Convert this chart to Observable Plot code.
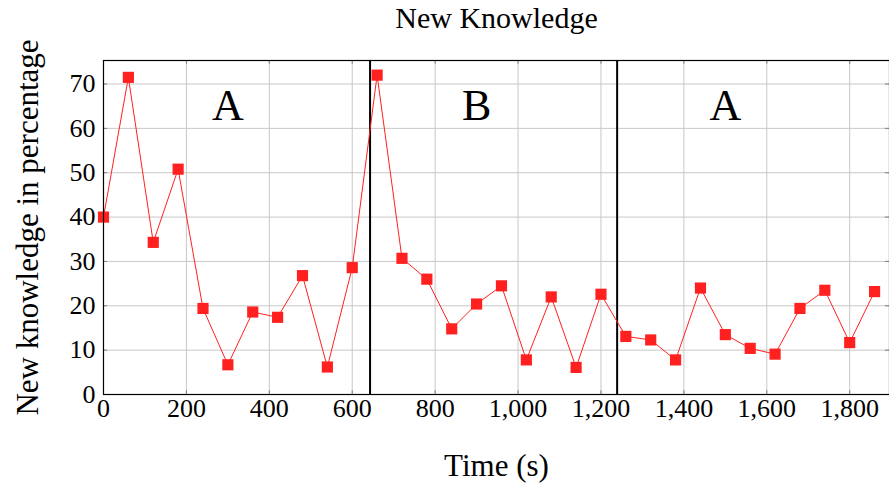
<!DOCTYPE html>
<html>
<head>
<meta charset="utf-8">
<script src="https://cdn.jsdelivr.net/npm/d3@7"></script>
<script src="https://cdn.jsdelivr.net/npm/@observablehq/plot@0.6"></script>
<style>
  html, body { margin: 0; padding: 0; background: #fff; }
  svg { display: block; }
</style>
</head>
<body>
<div id="chart"></div>
<script>
const times = [0,60,120,180,240,300,360,420,480,540,600,660,720,780,840,900,960,1020,1080,1140,1200,1260,1320,1380,1440,1500,1560,1620,1680,1740,1800,1860];
const knowledge = [40.0,71.5,34.3,50.8,19.4,6.7,18.6,17.4,26.8,6.2,28.6,72.0,30.7,26.0,14.8,20.4,24.5,7.8,22.0,6.1,22.6,13.1,12.3,7.8,24.0,13.5,10.4,9.1,19.4,23.5,11.7,23.2];
const phaseBoundaries = [643, 1239];
const phaseLabels = ["A", "B", "A"];
const phaseLabelX = [300, 900, 1500];
const phaseLabelY = [65, 65, 65];
const xTicks = [0,200,400,600,800,1000,1200,1400,1600,1800];
const yTicks = [0,10,20,30,40,50,60,70];
const title = "New Knowledge";
const xLabel = "Time (s)";
const yLabel = "New knowledge in percentage";

const data = times.map((t, i) => ({t, v: knowledge[i]}));
const labels = phaseLabels.map((s, i) => ({s, x: phaseLabelX[i], y: phaseLabelY[i]}));
const xMax = 1896, yMax = 75.3;

const font = "Liberation Serif, DejaVu Serif, serif";
const chart = Plot.plot({
  width: 889,
  height: 486,
  marginLeft: 103,
  marginRight: 0,
  marginTop: 60,
  marginBottom: 92,
  style: {fontFamily: font, fontSize: "26px", color: "black", background: "white"},
  x: {domain: [0, xMax]},
  y: {domain: [0, yMax]},
  marks: [
    Plot.gridX(xTicks, {stroke: "#c8c8c8", strokeOpacity: 1, strokeWidth: 1}),
    Plot.gridY(yTicks, {stroke: "#c8c8c8", strokeOpacity: 1, strokeWidth: 1}),
    // inward tick marks (pgfplots style)
    Plot.ruleX(xTicks, {y1: 0, y2: 0.85, stroke: "#808080", strokeWidth: 1}),
    Plot.ruleX(xTicks, {y1: yMax - 0.85, y2: yMax, stroke: "#808080", strokeWidth: 1}),
    Plot.ruleY(yTicks, {x1: 0, x2: 10, stroke: "#808080", strokeWidth: 1}),
    Plot.ruleY(yTicks, {x1: xMax - 10, x2: xMax, stroke: "#808080", strokeWidth: 1}),
    Plot.axisX(xTicks, {tickSize: 0, tickPadding: 4, tickFormat: d3.format(","), fontSize: 26, label: null}),
    Plot.axisY(yTicks, {tickSize: 0, tickPadding: 8, fontSize: 26, label: null}),
    Plot.text([title], {frameAnchor: "top", dy: -42, lineAnchor: "middle", textAnchor: "middle", fontSize: 30, fill: "black"}),
    Plot.text([xLabel], {frameAnchor: "bottom", dy: 72, lineAnchor: "middle", textAnchor: "middle", fontSize: 31, fill: "black"}),
    Plot.text([yLabel], {frameAnchor: "left", dx: -75, rotate: -90, lineAnchor: "middle", textAnchor: "middle", fontSize: 31, fill: "black"}),
    Plot.ruleX(phaseBoundaries, {stroke: "black", strokeWidth: 2}),
    Plot.line(data, {x: "t", y: "v", stroke: "#ff2020", strokeWidth: 1}),
    Plot.dot(data, {x: "t", y: "v", symbol: "square", r: 6.3, fill: "#ff2020", stroke: "none"}),
    Plot.text(labels, {x: "x", y: "y", text: "s", fontSize: 44, fill: "black"}),
    Plot.frame({stroke: "black", strokeWidth: 1.2})
  ]
});
document.getElementById("chart").appendChild(chart);
</script>
</body>
</html>
